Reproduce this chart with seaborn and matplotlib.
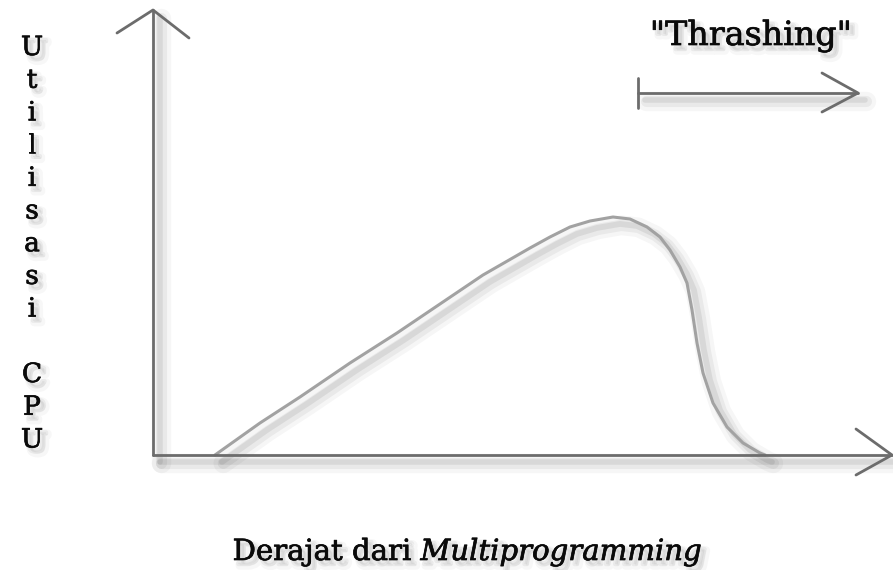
import matplotlib
matplotlib.use("Agg")
import matplotlib.pyplot as plt
import matplotlib.patheffects as pe
import seaborn as sns
import pandas as pd

# CPU utilisation as the degree of multiprogramming grows
degree = [62, 107, 147, 197, 244, 330, 377, 397, 417, 437, 460, 477, 494,
          507, 517, 527, 534, 539, 544, 550, 560, 574, 590, 607, 612]
utilisation = [0, 32, 58, 92, 122, 180, 207, 218, 228, 234, 238, 236, 228,
               218, 205, 188, 172, 145, 112, 82, 52, 28, 12, 2, 0]

y_label_top = list("Utilisasi")
y_label_bottom = list("CPU")
x_label_plain = "Derajat dari "
x_label_italic = "Multiprogramming"
thrashing_label = '"Thrashing"'
thrashing_start = 485

sns.set_style("white")
plt.rcParams["font.family"] = ["DejaVu Serif", "DejaVu Sans"]

fig = plt.figure(figsize=(8.93, 5.70), dpi=100)
ax = fig.add_axes([0, 0, 1, 1])
ax.set_xlim(-153, 740)
ax.set_ylim(-115, 455)
ax.axis("off")

AXIS_COLOR = "#6c6c6c"
CURVE_COLOR = "#a2a2a2"
TEXT_COLOR = "#0a0a0a"


def soft_shadow(lw):
    return [
        pe.SimpleLineShadow(offset=(6, -6), shadow_color="k", alpha=0.035, linewidth=lw + 12),
        pe.SimpleLineShadow(offset=(6, -6), shadow_color="k", alpha=0.05, linewidth=lw + 6),
        pe.SimpleLineShadow(offset=(5, -5), shadow_color="k", alpha=0.07, linewidth=lw + 2),
        pe.Normal(),
    ]


text_shadow = [
    pe.Stroke(offset=(4, -4), linewidth=6, foreground="k", alpha=0.03),
    pe.Stroke(offset=(3, -3), linewidth=3, foreground="k", alpha=0.05),
    pe.Stroke(linewidth=0.5, foreground=TEXT_COLOR),
    pe.Normal(),
]

# the curve
df = pd.DataFrame({"degree": degree, "utilisation": utilisation})
sns.lineplot(data=df, x="degree", y="utilisation", ax=ax, color=CURVE_COLOR,
             linewidth=2.2, sort=False, legend=False)
ax.lines[-1].set_path_effects(soft_shadow(2.2))
ax.lines[-1].set_solid_capstyle("round")

# axes drawn as open arrows
x_end, y_end = 739, 445
head = 36
axis_kw = dict(color=AXIS_COLOR, linewidth=2.0, clip_on=False,
               solid_capstyle="round", solid_joinstyle="round")
ln, = ax.plot([0, 0], [0, y_end], **axis_kw)
ln.set_path_effects(soft_shadow(2.0))
ax.plot([-head, 0, head], [y_end - 23, y_end, y_end - 28], **axis_kw)
ln, = ax.plot([0, x_end], [0, 0], **axis_kw)
ln.set_path_effects(soft_shadow(2.0))
ax.plot([x_end - head, x_end, x_end - head], [26, 0, -20], **axis_kw)

# thrashing region marker
t_y = 362
t_end = 705
ln, = ax.plot([thrashing_start, t_end], [t_y, t_y], **axis_kw)
ln.set_path_effects(soft_shadow(2.0))
ax.plot([thrashing_start, thrashing_start], [t_y - 15, t_y + 15], **axis_kw)
ax.plot([t_end - 36, t_end, t_end - 36], [t_y + 20, t_y, t_y - 19], **axis_kw)
ax.text((thrashing_start + t_end) / 2 + 3, 410, thrashing_label, ha="center",
        va="baseline", fontsize=24, color=TEXT_COLOR, path_effects=text_shadow)

# vertical y label, one letter per line
step = 32.7
for k, ch in enumerate(y_label_top + [""] + y_label_bottom):
    if ch:
        ax.text(-121, 400 - k * step, ch, ha="center", va="baseline",
                fontsize=19, color=TEXT_COLOR, path_effects=text_shadow)

# x label with an italic part, centred as a whole
t1 = ax.text(0, -105, x_label_plain, ha="left", va="baseline", fontsize=21,
             color=TEXT_COLOR, path_effects=text_shadow)
t2 = ax.text(0, -105, x_label_italic, ha="left", va="baseline", fontsize=21,
             style="italic", color=TEXT_COLOR, path_effects=text_shadow)
fig.canvas.draw()
renderer = fig.canvas.get_renderer()
w_plain = t1.get_window_extent(renderer=renderer).width
w_it = t2.get_window_extent(renderer=renderer).width
center_px = ax.transData.transform((314, 0))[0]
start_px = center_px - (w_plain + w_it) / 2
inv = ax.transData.inverted()
t1.set_position((inv.transform((start_px, 0))[0], -105))
t2.set_position((inv.transform((start_px + w_plain, 0))[0], -105))

fig.savefig("out.png", dpi=100, facecolor="white")
